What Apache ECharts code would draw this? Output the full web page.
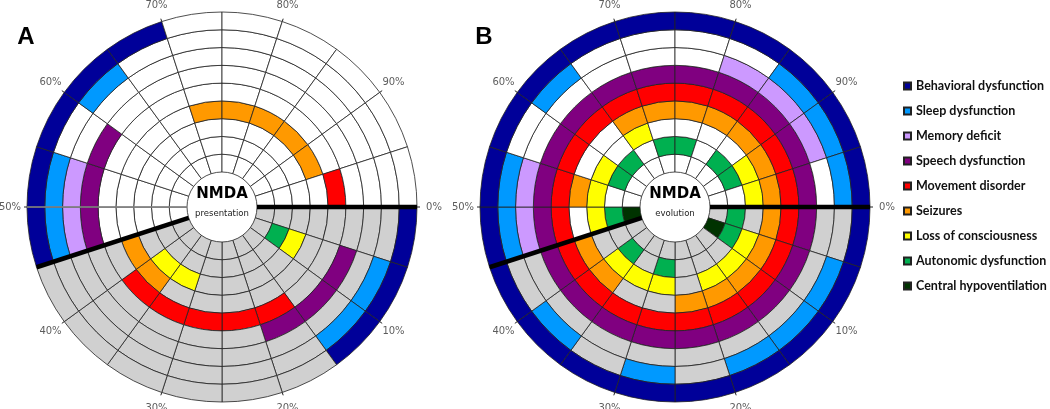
<!DOCTYPE html>
<html>
<head>
<meta charset="utf-8">
<script src="https://cdn.jsdelivr.net/npm/echarts@6.0.0/dist/echarts.min.js"></script>
<style>
  html, body { margin: 0; padding: 0; background: #ffffff; }
  #chart { width: 1050px; height: 409px; }
</style>
</head>
<body>
<div id="chart"></div>
<script>
// ---------------- DATA ----------------
// 20 angular sectors (5% each), clockwise from 0% (east)
const sectors = ['1','2','3','4','5','6','7','8','9','10','11','12','13','14','15','16','17','18','19','20'];
// rings, inner -> outer
const symptoms = ['Central hypoventilation','Autonomic dysfunction','Loss of consciousness','Seizures',
                  'Movement disorder','Speech dysfunction','Memory deficit','Sleep dysfunction','Behavioral dysfunction'];
const symptomColors = ['#003300','#00b050','#ffff00','#ff9900','#ff0000','#800080','#cc99ff','#0099ff','#000099'];
const pctTicks = [0, 10, 20, 30, 40, 50, 60, 70, 80, 90];
const pctLabels = ['0%','10%','20%','30%','40%','50%','60%','70%','80%','90%'];
const splitPct = 45;          // gray region: 0% .. 45%
const panelLetters = ['A', 'B'];
const panelSubtitles = ['presentation', 'evolution'];

// Panel A (presentation): 1 = symptom present in that sector
const A_central    = [0,0,0,0,0,0,0,0,0,0,0,0,0,0,0,0,0,0,0,0];
const A_autonomic  = [0,1,0,0,0,0,0,0,0,0,0,0,0,0,0,0,0,0,0,0];
const A_loc        = [0,1,0,0,0,0,1,1,0,0,0,0,0,0,0,0,0,0,0,0];
const A_seizures   = [0,0,0,0,0,0,0,1,1,0,0,0,0,0,1,1,1,1,1,0];
const A_movement   = [0,0,0,1,1,1,1,1,0,0,0,0,0,0,0,0,0,0,0,1];
const A_speech     = [0,1,1,1,0,0,0,0,0,1,1,1,0,0,0,0,0,0,0,0];
const A_memory     = [0,0,0,0,0,0,0,0,0,1,1,0,0,0,0,0,0,0,0,0];
const A_sleep      = [0,1,1,0,0,0,0,0,0,1,1,0,1,0,0,0,0,0,0,0];
const A_behavioral = [1,1,1,0,0,0,0,0,0,1,1,1,1,1,0,0,0,0,0,0];

// Panel B (evolution)
const B_central    = [0,1,0,0,0,0,0,0,0,1,0,0,0,0,0,0,0,0,0,0];
const B_autonomic  = [1,1,0,0,0,1,0,1,0,1,0,1,1,0,1,1,0,1,1,0];
const B_loc        = [0,1,1,1,0,1,1,1,0,1,1,1,0,1,0,0,0,0,1,1];
const B_seizures   = [1,1,1,1,1,0,0,1,1,0,1,0,0,1,1,1,1,1,1,1];
const B_movement   = [1,1,1,1,1,1,1,1,1,1,1,1,1,1,1,1,1,1,1,1];
const B_speech     = [1,1,1,1,1,1,1,1,1,1,1,1,1,1,1,1,1,1,1,1];
const B_memory     = [0,0,0,0,0,0,0,0,0,1,1,0,0,0,0,0,1,1,1,0];
const B_sleep      = [0,1,1,1,0,1,0,1,0,1,1,0,1,0,0,0,0,1,1,1];
const B_behavioral = [1,1,1,1,1,1,1,1,1,1,1,1,1,1,1,1,1,1,1,1];

const panelData = [
  [A_central, A_autonomic, A_loc, A_seizures, A_movement, A_speech, A_memory, A_sleep, A_behavioral],
  [B_central, B_autonomic, B_loc, B_seizures, B_movement, B_speech, B_memory, B_sleep, B_behavioral]
];

// ---------------- LAYOUT ----------------
const centers = [[222, 207], [675, 207]];
const letterOffsets = [[-196, -170], [-191, -170]];
const R_IN = 35, R_OUT = 195;
const RINGS = symptoms.length;
const LABEL_R = RINGS + 17 / ((R_OUT - R_IN) / RINGS); // label ring ~17px outside
const GRAY = '#d0d0d0', WHITE = '#ffffff';

const polar = [], angleAxis = [], radiusAxis = [], series = [], graphic = [];

centers.forEach((c, p) => {
  const cellPolar = p * 2, ovPolar = p * 2 + 1;
  polar.push({ center: c, radius: [R_IN, R_OUT] });
  polar.push({ center: c, radius: [R_IN, R_OUT] });
  angleAxis.push({
    polarIndex: cellPolar, type: 'category', data: sectors, startAngle: 0, clockwise: true,
    boundaryGap: true, axisLine: { show: false }, axisTick: { show: false },
    axisLabel: { show: false }, splitLine: { show: false }
  });
  angleAxis.push({
    polarIndex: ovPolar, type: 'value', min: 0, max: 100, interval: 10, startAngle: 0, clockwise: true,
    axisLine: { show: false },
    axisTick: { show: true, length: 3, lineStyle: { color: '#222', width: 1 } },
    axisLabel: { show: false }, splitLine: { show: false }
  });
  [cellPolar, ovPolar].forEach(pi => radiusAxis.push({
    polarIndex: pi, type: 'value', min: 0, max: RINGS,
    axisLine: { show: false }, axisTick: { show: false }, axisLabel: { show: false }, splitLine: { show: false }
  }));

  panelData[p].forEach((arr, k) => {
    series.push({
      type: 'bar', coordinateSystem: 'polar', polarIndex: cellPolar,
      name: symptoms[k], stack: 'rings' + p, barCategoryGap: '0%',
      itemStyle: { color: symptomColors[k], borderColor: '#222', borderWidth: 0.8 },
      data: arr.map((v, i) => ({
        value: 1,
        itemStyle: { color: v ? symptomColors[k] : ((i + 1) * 100 / sectors.length <= splitPct ? GRAY : WHITE) }
      })),
      silent: true, animation: false
    });
  });

  if (p === 0) {
    series.push({
      type: 'line', coordinateSystem: 'polar', polarIndex: ovPolar, data: [[0, 50], [RINGS, 50]],
      symbol: 'none', lineStyle: { color: '#8a8a8a', width: 1.6 }, silent: true, animation: false, z: 8
    });
  }
  [0, splitPct].forEach(a => series.push({
    type: 'line', coordinateSystem: 'polar', polarIndex: ovPolar, data: [[0, a], [RINGS, a]],
    symbol: 'none', lineStyle: { color: '#000', width: 4.5 }, silent: true, animation: false, z: 10
  }));
  series.push({
    type: 'scatter', coordinateSystem: 'polar', polarIndex: ovPolar, clip: false,
    data: pctTicks.map(t => [LABEL_R, t]), symbolSize: 1, itemStyle: { color: 'rgba(0,0,0,0)' },
    label: {
      show: true, position: 'inside', formatter: d => pctLabels[d.dataIndex],
      color: '#333', fontFamily: 'DejaVu Sans', fontSize: 10
    },
    silent: true, animation: false, z: 10
  });

  graphic.push({ type: 'text', x: c[0], y: c[1] - 13, z: 20,
    style: { text: 'NMDA', fill: '#000', fontFamily: 'DejaVu Sans', fontWeight: 'bold', fontSize: 15,
             align: 'center', verticalAlign: 'middle' } });
  graphic.push({ type: 'text', x: c[0], y: c[1] + 7, z: 20,
    style: { text: panelSubtitles[p], fill: '#222', fontFamily: 'DejaVu Sans', fontSize: 8.5,
             align: 'center', verticalAlign: 'middle' } });
  graphic.push({ type: 'text', x: c[0] + letterOffsets[p][0], y: c[1] + letterOffsets[p][1], z: 20,
    style: { text: panelLetters[p], fill: '#000', fontFamily: 'Liberation Sans', fontWeight: 'bold', fontSize: 24,
             align: 'center', verticalAlign: 'middle' } });
});

const chart = echarts.init(document.getElementById('chart'), null, { renderer: 'canvas' });
chart.setOption({
  backgroundColor: '#ffffff',
  animation: false,
  polar, angleAxis, radiusAxis, series, graphic,
  legend: {
    orient: 'vertical', left: 903, top: 79, padding: 0, itemWidth: 7, itemHeight: 7, itemGap: 11, icon: 'rect',
    selectedMode: false, data: symptoms.slice().reverse(),
    textStyle: { fontFamily: 'Lato', fontWeight: 'bold', fontSize: 12.5, lineHeight: 14, color: '#111' }
  }
});
</script>
</body>
</html>
